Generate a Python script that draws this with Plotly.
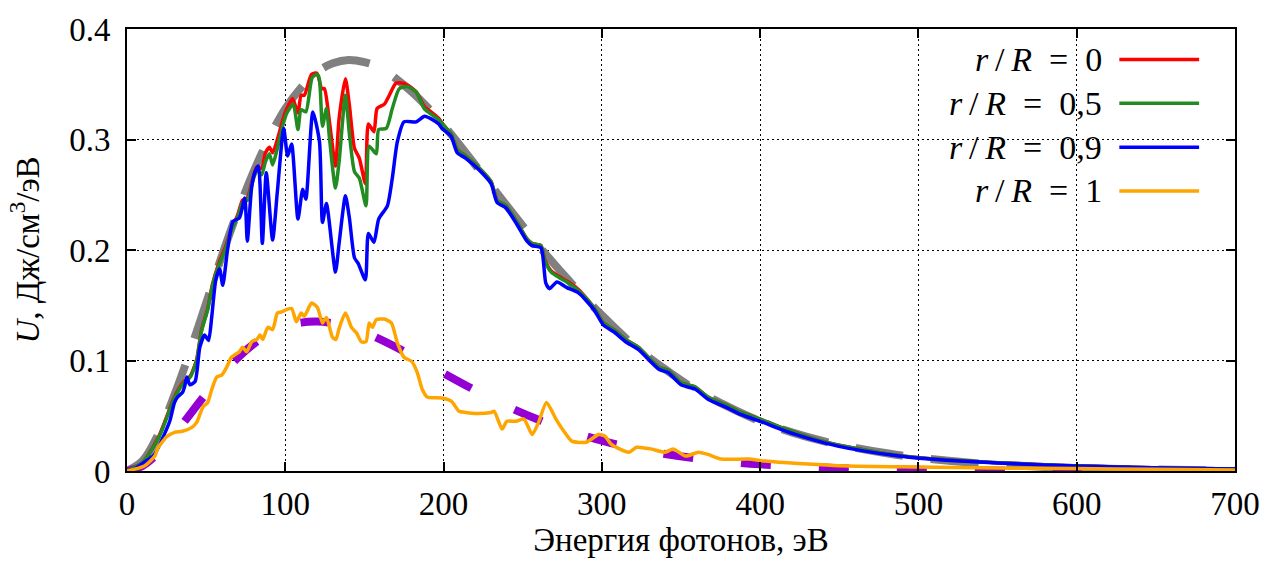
import plotly.graph_objects as go

# ---- spectra: photon energy (eV) vs spectral energy density U (J/cm^3/eV) ----

# blackbody reference curves (dashed)
planck_hot_E = [0, 10, 20, 30, 40, 50, 60, 70, 80, 90, 100, 110, 120, 130, 140, 150, 160, 170,
                180, 190, 200, 220, 240, 260, 280, 300, 320, 340, 360, 380, 400, 420, 440, 460,
                480, 500, 540, 580, 620, 660, 700]
planck_hot_U = [0, 0.0095, 0.034, 0.069, 0.109, 0.152, 0.195, 0.235, 0.271, 0.302, 0.328, 0.347,
                0.361, 0.369, 0.372, 0.370, 0.365, 0.355, 0.343, 0.329, 0.313, 0.277, 0.240, 0.204,
                0.171, 0.141, 0.114, 0.092, 0.073, 0.058, 0.045, 0.035, 0.027, 0.021, 0.016, 0.012,
                0.0067, 0.0037, 0.0021, 0.0011, 0.0006]

planck_cold_E = [0, 10, 20, 30, 40, 50, 60, 70, 80, 90, 100, 110, 120, 130, 140, 150, 160, 180,
                 200, 220, 240, 260, 280, 300, 320, 340, 360, 380, 400, 450, 500, 550, 600, 700]
planck_cold_U = [0, 0.0048, 0.0168, 0.0332, 0.0516, 0.0701, 0.0874, 0.1025, 0.1149, 0.1244,
                 0.1308, 0.1343, 0.1352, 0.1337, 0.1303, 0.1254, 0.1191, 0.1045, 0.0885, 0.0730,
                 0.0587, 0.0464, 0.0359, 0.0274, 0.0206, 0.0154, 0.0114, 0.0083, 0.0060, 0.0026,
                 0.0011, 0.0004, 0.0002, 0.0]

# r/R = 0
r0_E = [0, 10, 20, 30, 36, 40, 44, 47, 51, 54, 58, 62, 66, 70, 73, 76, 79, 82, 85, 87.5, 90, 92,
        95, 98.5, 101, 104.6, 108, 110, 112, 116.6, 120, 123, 124.7, 128, 131.7, 134, 138, 140.5,
        143.7, 146.8, 150.6, 152.5, 156, 158, 162.6, 165.7, 170, 176.4, 182.7, 187.8, 193, 197,
        200, 204.7, 208.6, 214, 222, 230, 233.8, 239.4, 246, 252.7, 255.8, 261.5, 264, 268, 273,
        279, 285.4, 295, 301, 307.5, 315, 323, 336, 342, 350, 359, 367, 378, 388, 400, 416, 432,
        449, 466, 483, 499, 520, 550, 598, 655, 700]
r0_U = [0, 0.008, 0.031, 0.067, 0.081, 0.086, 0.101, 0.127, 0.147, 0.169, 0.188, 0.202, 0.219,
        0.232, 0.245, 0.247, 0.262, 0.275, 0.274, 0.288, 0.293, 0.288, 0.300, 0.318, 0.328, 0.337,
        0.324, 0.340, 0.340, 0.359, 0.360, 0.346, 0.346, 0.315, 0.276, 0.319, 0.355, 0.331, 0.292,
        0.283, 0.260, 0.314, 0.307, 0.328, 0.332, 0.340, 0.351, 0.350, 0.343, 0.330, 0.324, 0.319,
        0.313, 0.305, 0.291, 0.285, 0.275, 0.262, 0.245, 0.240, 0.226, 0.210, 0.206, 0.204, 0.191,
        0.181, 0.176, 0.171, 0.164, 0.148, 0.134, 0.128, 0.119, 0.112, 0.094, 0.091, 0.080, 0.076,
        0.067, 0.060, 0.053, 0.047, 0.038, 0.030, 0.0235, 0.019, 0.015, 0.0122, 0.0099, 0.0075,
        0.0047, 0.0028, 0.0019]

# r/R = 0.5
r05_E = [0, 10, 20, 30, 36, 40, 44, 47, 51, 54, 58, 62, 66, 70, 73, 76, 79, 82, 85, 87.5, 90, 92,
         95, 98.5, 101, 105, 108, 110, 113, 117, 120, 121.5, 123.5, 126, 128, 131.7, 134, 138,
         140.5, 143.7, 146.8, 151, 153, 157.5, 159, 163.8, 167.6, 172, 177, 182.7, 187.8, 193,
         197, 200, 204.7, 208.6, 214, 222, 230, 233.8, 239.4, 246, 252.7, 255.8, 261.5, 264, 268,
         273, 279, 285.4, 295, 301, 307.5, 315, 323, 336, 342, 350, 359, 367, 378, 388, 400, 416,
         432, 449, 466, 483, 499, 520, 550, 598, 655, 700]
r05_U = [0, 0.008, 0.030, 0.066, 0.080, 0.085, 0.100, 0.126, 0.146, 0.168, 0.186, 0.200, 0.218,
         0.230, 0.243, 0.245, 0.260, 0.272, 0.268, 0.280, 0.287, 0.277, 0.292, 0.313, 0.324, 0.332,
         0.309, 0.327, 0.325, 0.356, 0.359, 0.355, 0.312, 0.328, 0.300, 0.256, 0.280, 0.340, 0.305,
         0.271, 0.265, 0.240, 0.294, 0.287, 0.309, 0.310, 0.328, 0.346, 0.348, 0.343, 0.328, 0.322,
         0.318, 0.313, 0.305, 0.291, 0.285, 0.275, 0.262, 0.245, 0.240, 0.226, 0.210, 0.206, 0.204,
         0.190, 0.180, 0.175, 0.170, 0.163, 0.148, 0.134, 0.128, 0.119, 0.112, 0.094, 0.091, 0.080,
         0.076, 0.067, 0.060, 0.053, 0.047, 0.038, 0.030, 0.0235, 0.019, 0.015, 0.0122, 0.0099,
         0.0075, 0.0047, 0.0028, 0.0019]

# r/R = 0.9
r09_E = [0, 5, 11, 16.4, 20, 27, 30, 32, 35, 36.5, 37.8, 39.7, 43, 46, 49, 51.5, 53.5, 56, 58.5,
         60.5, 63.5, 67, 71, 74.4, 76, 78.7, 80.7, 83, 85.5, 88, 92, 95, 99, 101.5, 104, 108, 111,
         113, 117.4, 121.6, 123.5, 126, 131.7, 134, 138, 140.5, 143.7, 146, 150.6, 152.5, 156, 159,
         164.5, 167.6, 170.8, 175, 182.7, 188, 193, 197, 199, 204.7, 208.6, 214, 222, 230, 233.8,
         239.4, 246, 252.7, 255.8, 261.5, 264.6, 267, 271.6, 277.9, 285.4, 295, 301, 307.5, 315,
         323, 336, 342, 350, 359, 367, 378, 388, 400, 416, 432, 449, 466, 483, 499, 520, 550, 598,
         655, 700]
r09_U = [0, 0.002, 0.008, 0.0135, 0.022, 0.045, 0.062, 0.067, 0.071, 0.077, 0.085, 0.078, 0.081,
         0.112, 0.123, 0.118, 0.139, 0.172, 0.183, 0.168, 0.200, 0.226, 0.229, 0.247, 0.208, 0.256,
         0.270, 0.276, 0.206, 0.270, 0.209, 0.253, 0.310, 0.285, 0.296, 0.228, 0.255, 0.246, 0.325,
         0.298, 0.225, 0.242, 0.180, 0.206, 0.249, 0.229, 0.193, 0.188, 0.173, 0.215, 0.207, 0.228,
         0.240, 0.265, 0.298, 0.316, 0.316, 0.321, 0.318, 0.314, 0.310, 0.303, 0.288, 0.283, 0.273,
         0.260, 0.243, 0.238, 0.224, 0.208, 0.204, 0.202, 0.170, 0.165, 0.171, 0.166, 0.161, 0.146,
         0.132, 0.126, 0.117, 0.110, 0.092, 0.089, 0.078, 0.074, 0.065, 0.058, 0.051, 0.045, 0.036,
         0.0288, 0.0225, 0.018, 0.0144, 0.0117, 0.0095, 0.0072, 0.0045, 0.0027, 0.0018]

# r/R = 1
r1_E = [0, 11, 17.6, 19.5, 22.7, 25, 30, 35, 41, 44, 46, 48, 51, 53.6, 56.7, 60, 63, 66, 71, 73,
        75.6, 78.8, 82, 84, 85.7, 89, 92, 95, 97.6, 100.8, 104, 107, 110, 112, 116.6, 120.3, 123.5,
        126, 129.8, 132, 134, 138, 141.8, 145, 148, 151, 153, 155, 157.5, 162.5, 167, 170.8, 175,
        180, 183.4, 186.5, 189.7, 199, 205, 209.8, 214, 220.5, 230, 232, 237, 240, 245.7, 250.8,
        256, 260, 265, 271, 276, 281, 290, 298, 302, 306, 317, 322, 331, 340, 345, 353, 361, 367,
        375.5, 392.5, 403, 424, 456, 498, 550, 600, 650, 700]
r1_U = [0, 0.0045, 0.0135, 0.021, 0.027, 0.031, 0.035, 0.036, 0.0395, 0.044, 0.051, 0.058, 0.062,
        0.074, 0.085, 0.087, 0.094, 0.103, 0.108, 0.112, 0.108, 0.117, 0.119, 0.123, 0.119, 0.130,
        0.128, 0.143, 0.144, 0.146, 0.147, 0.135, 0.143, 0.140, 0.152, 0.148, 0.134, 0.139, 0.121,
        0.119, 0.129, 0.143, 0.130, 0.125, 0.117, 0.117, 0.134, 0.130, 0.137, 0.1375, 0.134, 0.116,
        0.103, 0.099, 0.089, 0.074, 0.067, 0.066, 0.063, 0.054, 0.053, 0.052, 0.053, 0.054, 0.038,
        0.045, 0.045, 0.047, 0.033, 0.044, 0.062, 0.047, 0.036, 0.027, 0.026, 0.033, 0.0315, 0.024,
        0.017, 0.0215, 0.020, 0.017, 0.020, 0.0135, 0.017, 0.015, 0.0108, 0.0108, 0.009, 0.0068,
        0.0045, 0.0036, 0.0027, 0.0022, 0.0015, 0.001]

series_labels = ["0", "0,5", "0,9", "1"]
series_colors = ["#ff0000", "#228b22", "#0000ff", "#ffa500"]

x_ticks = [0, 100, 200, 300, 400, 500, 600, 700]
y_ticks = [0, 0.1, 0.2, 0.3, 0.4]
y_tick_text = ["0", "0.1", "0.2", "0.3", "0.4"]

SERIF = "Liberation Serif"

fig = go.Figure()

fig.add_trace(go.Scatter(x=planck_hot_E, y=planck_hot_U, mode="lines", line_shape="spline",
                         line=dict(color="#808080", width=8, dash="48px,28px"),
                         showlegend=False, hoverinfo="skip"))
fig.add_trace(go.Scatter(x=planck_cold_E, y=planck_cold_U, mode="lines", line_shape="spline",
                         line=dict(color="#9400d3", width=8, dash="30px,48px"),
                         showlegend=False, hoverinfo="skip"))

curves = [(r0_E, r0_U), (r05_E, r05_U), (r09_E, r09_U), (r1_E, r1_U)]
for (xs, ys), lab, col in zip(curves, series_labels, series_colors):
    fig.add_trace(go.Scatter(x=xs, y=ys, mode="lines", line_shape="spline",
                             line=dict(color=col, width=3.5, smoothing=0.6),
                             name=f"r/R = {lab}", showlegend=False))

# key: label on the left, line sample on the right
key_rows = [0.931, 0.832, 0.7326, 0.6337]
for lab, col, yk in zip(series_labels, series_colors, key_rows):
    fig.add_annotation(xref="paper", yref="paper", x=0.882, y=yk, xanchor="right",
                       yanchor="middle", showarrow=False,
                       text=f"<i>r</i>\u2009/\u2009<i>R</i>\u2002=\u2002{lab}",
                       font=dict(family=SERIF, size=34, color="black"))
    fig.add_shape(type="line", xref="paper", yref="paper", x0=0.8956, x1=0.9676, y0=yk, y1=yk,
                  line=dict(color=col, width=3.5))

axis_common = dict(showline=True, linecolor="black", linewidth=2, mirror="ticks",
                   ticks="inside", ticklen=9, tickwidth=1.5, tickcolor="black",
                   showgrid=True, gridcolor="black", gridwidth=1, griddash="2px,3px",
                   zeroline=False, tickfont=dict(family=SERIF, size=33, color="black"))

fig.update_xaxes(range=[0, 700], tickvals=x_ticks, ticktext=[str(t) for t in x_ticks],
                 ticklabelstandoff=2,
                 title=dict(text="Энергия фотонов, эВ", standoff=6,
                            font=dict(family=SERIF, size=33, color="black")),
                 **axis_common)
fig.update_yaxes(range=[0, 0.4], tickvals=y_ticks, ticktext=y_tick_text,
                 ticklabelstandoff=8,
                 title=dict(text="<i>U</i>, Дж/см<sup>3</sup>/эВ", standoff=20,
                            font=dict(family=SERIF, size=33, color="black")),
                 **axis_common)

fig.update_layout(width=1272, height=563, margin=dict(l=127, r=34, t=27, b=91),
                  paper_bgcolor="white", plot_bgcolor="white", showlegend=False)

fig.write_html("out.html")
